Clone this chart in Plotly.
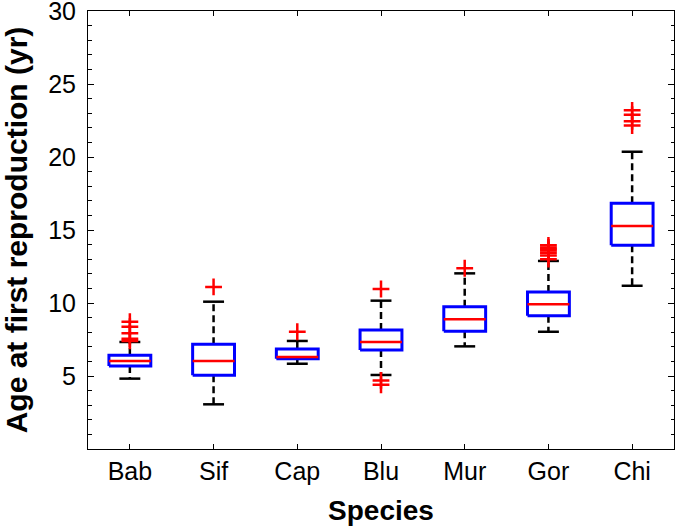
import plotly.graph_objects as go

# ---- data ----
species = ["Bab", "Sif", "Cap", "Blu", "Mur", "Gor", "Chi"]
q1 = [5.68, 5.05, 6.18, 6.78, 8.06, 9.13, 13.95]
median = [6.03, 6.03, 6.30, 7.33, 8.88, 9.91, 15.27]
q3 = [6.42, 7.17, 6.85, 8.15, 9.75, 10.75, 16.83]
whisker_low = [4.82, 3.06, 5.84, 5.07, 7.03, 8.03, 11.18]
whisker_high = [7.33, 10.09, 7.40, 10.16, 12.03, 12.88, 20.36]
outlier_species = ["Bab", "Bab", "Bab", "Bab", "Bab",
                   "Sif", "Cap",
                   "Blu", "Blu", "Blu",
                   "Mur",
                   "Gor", "Gor", "Gor", "Gor", "Gor", "Gor", "Gor",
                   "Chi", "Chi", "Chi", "Chi"]
outlier_values = [8.72, 8.38, 7.92, 7.55, 7.4,
                  11.1, 8.03,
                  10.96, 4.7, 4.4,
                  12.38,
                  13.95, 13.8, 13.7, 13.6, 13.45, 13.25, 13.0,
                  23.2, 22.9, 22.45, 22.15]
y_ticks = [5, 10, 15, 20, 25, 30]

# ---- geometry helpers ----
pos = {s: i + 1 for i, s in enumerate(species)}
half_box = 0.25
half_cap = 0.125

wx, wy = [], []
cx, cy = [], []
bx, by = [], []
mx, my = [], []
for s, a, m, b, lo, hi in zip(species, q1, median, q3, whisker_low, whisker_high):
    p = pos[s]
    wx += [p, p, None, p, p, None]
    wy += [b, hi, None, a, lo, None]
    cx += [p - half_cap, p + half_cap, None, p - half_cap, p + half_cap, None]
    cy += [hi, hi, None, lo, lo, None]
    bx += [p - half_box, p + half_box, p + half_box, p - half_box, p - half_box, None]
    by += [a, a, b, b, a, None]
    mx += [p - half_box, p + half_box, None]
    my += [m, m, None]

fig = go.Figure()
fig.add_trace(go.Scatter(x=wx, y=wy, mode="lines",
                         line=dict(color="black", width=2.5, dash="7px,4px"),
                         hoverinfo="skip", showlegend=False))
fig.add_trace(go.Scatter(x=cx, y=cy, mode="lines",
                         line=dict(color="black", width=2.5),
                         hoverinfo="skip", showlegend=False))
fig.add_trace(go.Scatter(x=bx, y=by, mode="lines",
                         line=dict(color="#0000ff", width=3),
                         hoverinfo="skip", showlegend=False))
fig.add_trace(go.Scatter(x=mx, y=my, mode="lines",
                         line=dict(color="#ff0000", width=2.5),
                         hoverinfo="skip", showlegend=False))
fig.add_trace(go.Scatter(x=[pos[s] for s in outlier_species], y=outlier_values,
                         mode="markers",
                         marker=dict(symbol="cross-thin", size=12,
                                     line=dict(color="#ff0000", width=2.5)),
                         showlegend=False))

font_family = "Liberation Sans, Arial, sans-serif"
fig.update_layout(
    width=675, height=531, autosize=False,
    margin=dict(l=88, r=1, t=11, b=82, pad=0),
    paper_bgcolor="white", plot_bgcolor="white",
    font=dict(family=font_family, size=25, color="black"),
    xaxis=dict(
        range=[0.5, 7.5], tickmode="array",
        tickvals=[pos[s] for s in species], ticktext=species,
        ticks="inside", ticklen=5, tickwidth=1, tickcolor="black",
        showline=True, linecolor="black", linewidth=1, mirror="ticks",
        showgrid=False, zeroline=False, automargin=False,
        tickfont=dict(size=25), ticklabelstandoff=0,
        title=dict(text="Species", font=dict(size=28, weight="bold"), standoff=16),
    ),
    yaxis=dict(
        range=[0, 30], tickmode="array", tickvals=y_ticks,
        ticks="inside", ticklen=6, tickwidth=1, tickcolor="black",
        minor=dict(dtick=1, ticks="inside", ticklen=3.5, tickcolor="black", tickwidth=1,
                   showgrid=False),
        showline=True, linecolor="black", linewidth=1, mirror="ticks",
        showgrid=False, zeroline=False, automargin=False,
        ticklabeloverflow="allow",
        tickfont=dict(size=25), ticklabelstandoff=6,
        title=dict(text="Age at first reproduction (yr)",
                   font=dict(size=30, weight="bold"), standoff=12),
    ),
)

fig.write_html("out.html",
               config={"displayModeBar": False},
               post_script="document.body.style.margin='0px';document.body.style.padding='0px';")
